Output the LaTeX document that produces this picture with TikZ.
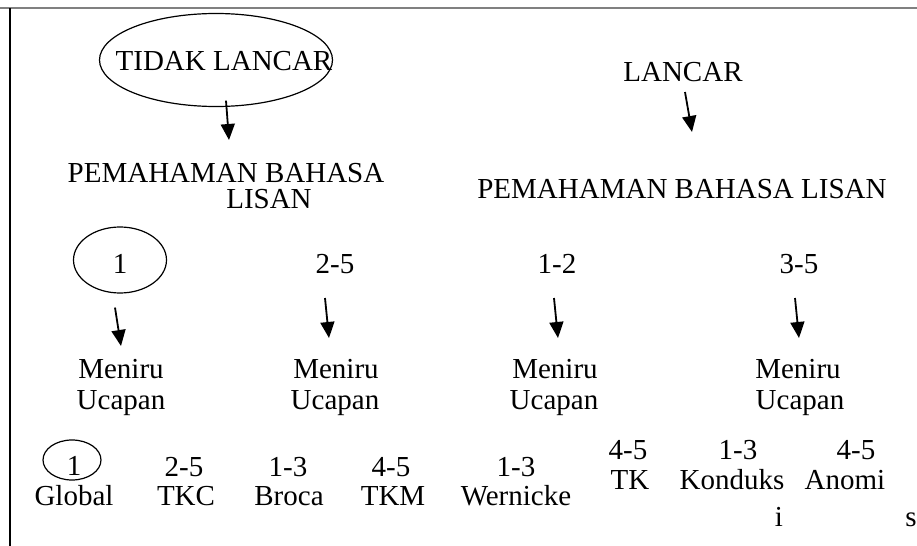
\documentclass[tikz,border=0pt]{standalone}
\usepackage{fontspec}
\setmainfont{Liberation Serif}
\usetikzlibrary{arrows.meta,shapes.geometric}
\tikzset{
  txt/.style={inner sep=0pt, anchor=base, font=\fontsize{14.5}{17}\selectfont},
  oval/.style={draw, ellipse, line width=0.6pt, inner sep=0pt},
  arr/.style={-{Triangle[length=8pt,width=7pt]}, line width=0.9pt},
}
\begin{document}
\begin{tikzpicture}[x=0.5pt,y=-0.5pt]
\useasboundingbox (0,0) rectangle (917,546);
\draw[gray, line width=1.1pt] (0,8) -- (917,8);
\draw[line width=1pt] (10,8) -- (10,546);
\node[oval, minimum width=116.5pt, minimum height=46.5pt] (tlring) at (216,60) {};
\node[txt] (tl) at (224,70) {TIDAK LANCAR};
\node[txt] (lc) at (683,82) {LANCAR};
\node[txt] (pb1) at (226,182) {PEMAHAMAN BAHASA};
\node[txt] (pb1b) at (269,208) {LISAN};
\node[txt] (pb2) at (682,198) {PEMAHAMAN BAHASA LISAN};
\node[oval, minimum width=46.5pt, minimum height=33pt] (n1ring) at (120,260) {};
\node[txt] (n1) at (120,273) {1};
\node[txt] (n2) at (335,273) {2-5};
\node[txt] (n3) at (557,273) {1-2};
\node[txt] (n4) at (799,273) {3-5};
\node[txt] (m1) at (121,378) {Meniru};
\node[txt] (u1) at (121,409) {Ucapan};
\node[txt] (m2) at (336,378) {Meniru};
\node[txt] (u2) at (335,409) {Ucapan};
\node[txt] (m3) at (555,378) {Meniru};
\node[txt] (u3) at (554,409) {Ucapan};
\node[txt] (m4) at (798,378) {Meniru};
\node[txt] (u4) at (800,409) {Ucapan};
\node[oval, minimum width=29pt, minimum height=20pt] (b1ring) at (72,460) {};
\node[txt] (b1) at (74,475) {1};
\node[txt] (gl) at (74,505) {Global};
\node[txt] (b2) at (184,476) {2-5};
\node[txt] (tkc) at (186,505) {TKC};
\node[txt] (b3) at (288,476) {1-3};
\node[txt] (br) at (289,505) {Broca};
\node[txt] (b4) at (391,476) {4-5};
\node[txt] (tkm) at (393,505) {TKM};
\node[txt] (b5) at (516,476) {1-3};
\node[txt] (we) at (516,505) {Wernicke};
\node[txt] (b6) at (628,459) {4-5};
\node[txt] (tk) at (630,489) {TK};
\node[txt] (b7) at (738,459) {1-3};
\node[txt] (kd) at (732,489) {Konduks};
\node[txt] (kdi) at (779,526) {i};
\node[txt] (b8) at (856,459) {4-5};
\node[txt] (an) at (845,489) {Anomi};
\node[txt] (ans) at (911,526) {s};
\draw[arr] ([shift={(10,-6.5)}]tlring.south) -- ([shift={(3,-42)}]pb1.base);
\draw[arr] ([shift={(2,10)}]lc.base) -- ([shift={(10,-66)}]pb2.base);
\draw[arr] ([shift={(-5,14)}]n1ring.south) -- ([shift={(0,-32)}]m1.base);
\draw[arr] ([shift={(-10,25)}]n2.base) -- ([shift={(-7,-40)}]m2.base);
\draw[arr] ([shift={(-3,25)}]n3.base) -- ([shift={(3,-40)}]m3.base);
\draw[arr] ([shift={(-4,25)}]n4.base) -- ([shift={(1,-40)}]m4.base);
\end{tikzpicture}
\end{document}
